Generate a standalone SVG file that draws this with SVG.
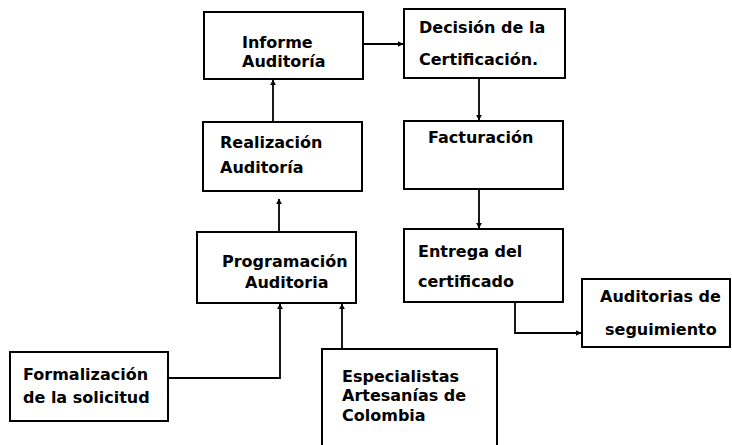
<svg xmlns="http://www.w3.org/2000/svg" width="732" height="445" viewBox="0 0 732 445">
<style>
.box{fill:#fff;stroke:#000;stroke-width:2}
.t{font-family:"DejaVu Sans",Verdana,sans-serif;font-weight:bold;font-size:16px;fill:#000}
.c{fill:none;stroke:#000;stroke-width:1.8}
</style>
<defs>
<marker id="ah" viewBox="0 0 10 10" refX="9" refY="5" markerWidth="6" markerHeight="6" markerUnits="userSpaceOnUse" orient="auto">
<path d="M0,0 L10,5 L0,10 z" fill="#000"/>
</marker>
</defs>
<rect width="732" height="445" fill="#fff"/>
<g id="connectors">
<path class="c" d="M273,122 V80" marker-end="url(#ah)"/>
<path class="c" d="M363,44 H403" marker-end="url(#ah)"/>
<path class="c" d="M479,78 V120" marker-end="url(#ah)"/>
<path class="c" d="M279,232 V199" marker-end="url(#ah)"/>
<path class="c" d="M479,189 V228" marker-end="url(#ah)"/>
<path class="c" d="M515,302 V333 H581" marker-end="url(#ah)"/>
<path class="c" d="M168,378 H280 V304" marker-end="url(#ah)"/>
<path class="c" d="M342,349 V304" marker-end="url(#ah)"/>
</g>
<g id="informe">
<rect class="box" x="204" y="12" width="159" height="67"/>
<text class="t" x="242" y="48">Informe</text>
<text class="t" x="242" y="67">Auditoría</text>
</g>
<g id="decision">
<rect class="box" x="404" y="9" width="161" height="69"/>
<text class="t" x="419" y="33">Decisión de la</text>
<text class="t" x="419" y="65">Certificación.</text>
</g>
<g id="realizacion">
<rect class="box" x="203" y="122" width="159" height="69"/>
<text class="t" x="220" y="148">Realización</text>
<text class="t" x="220" y="173">Auditoría</text>
</g>
<g id="facturacion">
<rect class="box" x="404" y="121" width="159" height="68"/>
<text class="t" x="428" y="143">Facturación</text>
</g>
<g id="programacion">
<rect class="box" x="197" y="232" width="159" height="71"/>
<text class="t" x="222" y="267">Programación</text>
<text class="t" x="245" y="288">Auditoria</text>
</g>
<g id="entrega">
<rect class="box" x="404" y="229" width="159" height="73"/>
<text class="t" x="418" y="257">Entrega del</text>
<text class="t" x="418" y="287">certificado</text>
</g>
<g id="auditorias">
<rect class="box" x="582" y="279" width="148" height="68"/>
<text class="t" x="600" y="302">Auditorias de</text>
<text class="t" x="605" y="335">seguimiento</text>
</g>
<g id="formalizacion">
<rect class="box" x="10" y="352" width="158" height="69"/>
<text class="t" x="23" y="380">Formalización</text>
<text class="t" x="23" y="403">de la solicitud</text>
</g>
<g id="especialistas">
<path class="box" d="M322,446 V349 H497 V446"/>
<text class="t" x="342" y="382">Especialistas</text>
<text class="t" x="342" y="401">Artesanías de</text>
<text class="t" x="342" y="421">Colombia</text>
</g>
</svg>
